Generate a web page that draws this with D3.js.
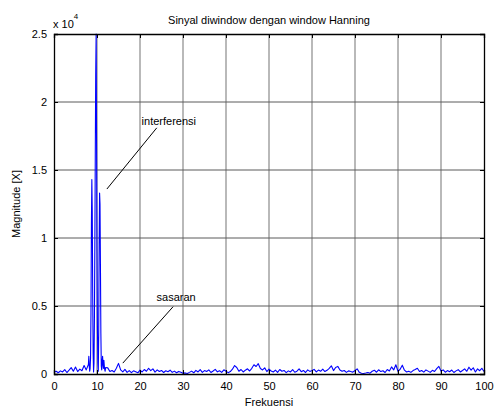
<!DOCTYPE html>
<html>
<head>
<meta charset="utf-8">
<script src="https://cdn.jsdelivr.net/npm/d3@7"></script>
<style>
  body { margin: 0; background: #fff; }
  svg { display: block; font-family: "Liberation Sans", Arial, sans-serif; }
</style>
</head>
<body>
<svg id="chart" width="494" height="412"></svg>
<script>
// Spectrum magnitude |X| of the Hanning-windowed signal, frequency in Hz.
const titleText = "Sinyal diwindow dengan window Hanning";
const xLabel = "Frekuensi";
const yLabel = "Magnitude [X]";

const xTickValues = [0, 10, 20, 30, 40, 50, 60, 70, 80, 90, 100];
const yTickValues = [0, 5000, 10000, 15000, 20000, 25000];
const yTickLabels = ["0", "0.5", "1", "1.5", "2", "2.5"];

// Noise floor 0 .. 8 Hz, every 0.5 Hz
const lowStart = 0, lowStep = 0.5;
const lowMag = [120, 200, 90, 230, 150, 320, 110, 280, 470, 200, 510, 180, 360, 240, 620, 300, 700];

// Interference cluster around 10 Hz, sampled finely
const peakFreq = [8.1, 8.2, 8.3, 8.4, 8.5, 8.6, 8.7, 8.8, 8.9, 9.0,
                  9.1, 9.2, 9.3, 9.4, 9.5, 9.6, 9.7, 9.8, 9.9, 10.0,
                  10.1, 10.2, 10.3, 10.4, 10.5, 10.6, 10.7, 10.8, 10.9, 11.0,
                  11.1, 11.2, 11.3, 11.4, 11.5, 11.6, 11.7, 11.8, 11.9, 12.0];
const peakMag  = [1300, 600, 200, 400, 1200, 4500, 11000, 14300, 12000, 6000,
                  1500, 150, 800, 4000, 9500, 16000, 22000, 25000, 17000, 9000,
                  3500, 800, 200, 3000, 9500, 13300, 12500, 8000, 3000, 600,
                  300, 900, 1300, 700, 400, 1000, 600, 300, 200, 480];

// Noise floor 12.5 .. 100 Hz, every 0.5 Hz (target tone near 15 Hz)
const highStart = 12.5, highStep = 0.5;
const highMag = [
  450, 180, 260, 150, 420, 780, 300, 160, 340, 120,   // 12.5 - 17.0
  250, 100, 230, 160, 90, 280, 150, 330, 200, 420,    // 17.5 - 22.0
  250, 380, 140, 300, 180, 260, 110, 240, 170, 280,   // 22.5 - 27.0
  120, 210, 90, 190, 130, 60, 80, 40, 120, 210,       // 27.5 - 32.0
  90, 270, 150, 320, 120, 250, 180, 300, 110, 220,    // 32.5 - 37.0
  340, 160, 240, 120, 310, 200, 100, 180, 350, 620,   // 37.5 - 42.0
  480, 200, 330, 150, 280, 380, 220, 420, 680, 550,   // 42.5 - 47.0
  760, 400, 300, 450, 180, 360, 220, 150, 280, 120,   // 47.5 - 52.0
  330, 200, 260, 100, 230, 150, 320, 130, 210, 380,   // 52.5 - 57.0
  170, 260, 110, 300, 190, 250, 340, 150, 290, 200,   // 57.5 - 62.0
  360, 180, 270, 420, 600, 250, 480, 560, 300, 200,   // 62.5 - 67.0
  260, 120, 230, 180, 140, 260, 380, 120, 50, 40,     // 67.5 - 72.0
  70, 110, 60, 200, 280, 130, 310, 180, 240, 110,     // 72.5 - 77.0
  330, 220, 520, 300, 680, 200, 350, 650, 280, 150,   // 77.5 - 82.0
  200, 120, 250, 330, 420, 180, 260, 140, 300, 210,   // 82.5 - 87.0
  120, 270, 180, 400, 560, 220, 300, 130, 250, 170,   // 87.5 - 92.0
  290, 110, 230, 320, 150, 260, 380, 200, 500, 280,   // 92.5 - 97.0
  460, 150, 380, 240, 420, 180                        // 97.5 - 100.0
];

// Text annotations with pointer lines, in data units
const annotations = [
  { text: "interferensi", tx: 26.7, ty: 18500, from: [23.9, 18100], to: [12.3, 13600] },
  { text: "sasaran",      tx: 28.4, ty: 5600,  from: [27.7, 4950],  to: [16.0, 800] }
];

const series = [];
lowMag.forEach((m, i) => series.push({ f: lowStart + i * lowStep, m }));
peakFreq.forEach((f, i) => series.push({ f, m: peakMag[i] }));
highMag.forEach((m, i) => series.push({ f: highStart + i * highStep, m }));

const svg = d3.select("#chart");
const margin = { left: 54, right: 10, top: 34, bottom: 38 };
const W = 494, H = 412;
const x = d3.scaleLinear().domain([0, 100]).range([margin.left, W - margin.right]);
const y = d3.scaleLinear().domain([0, 25000]).range([H - margin.bottom, margin.top]);

const x0 = x.range()[0], x1 = x.range()[1];
const y0 = y.range()[0], y1 = y.range()[1];

// grid
const grid = svg.append("g");
grid.selectAll("line.vx").data(xTickValues.slice(1, -1)).join("line")
  .attr("x1", d => x(d)).attr("x2", d => x(d))
  .attr("y1", y0).attr("y2", y1)
  .attr("stroke", "#8a8a8a").attr("stroke-width", 1.2);
grid.selectAll("line.hy").data(yTickValues.slice(1, -1)).join("line")
  .attr("x1", x0).attr("x2", x1)
  .attr("y1", d => y(d)).attr("y2", d => y(d))
  .attr("stroke", "#5a5a5a").attr("stroke-width", 1);

// spectrum line
const line = d3.line().x(d => x(d.f)).y(d => y(d.m));
svg.append("path").datum(series)
  .attr("d", line)
  .attr("fill", "none")
  .attr("stroke", "#0000ff")
  .attr("stroke-width", 1.1)
  .attr("stroke-linejoin", "round");

// axes (ticks point inward, box on all sides)
const tickLen = 4;
const fmtY = d => yTickLabels[yTickValues.indexOf(d)];
const bottomAxis = d3.axisBottom(x).tickValues(xTickValues).tickSize(-tickLen).tickPadding(8).tickFormat(d3.format("d"));
const leftAxis = d3.axisLeft(y).tickValues(yTickValues).tickSize(-tickLen).tickPadding(7).tickFormat(fmtY);
const topAxis = d3.axisTop(x).tickValues(xTickValues).tickSize(-tickLen).tickFormat("");
const rightAxis = d3.axisRight(y).tickValues(yTickValues).tickSize(-tickLen).tickFormat("");

function styleAxis(g) {
  g.select(".domain").attr("stroke", "#000").attr("stroke-width", 1.3);
  g.selectAll(".tick line").attr("stroke", "#000");
  g.selectAll(".tick text").attr("fill", "#000").style("font-size", "11px")
    .style("font-family", "'Liberation Sans', Arial, sans-serif");
}
svg.append("g").attr("transform", `translate(0,${y0})`).call(bottomAxis).call(styleAxis);
svg.append("g").attr("transform", `translate(${x0},0)`).call(leftAxis).call(styleAxis);
svg.append("g").attr("transform", `translate(0,${y1})`).call(topAxis).call(styleAxis);
svg.append("g").attr("transform", `translate(${x1},0)`).call(rightAxis).call(styleAxis);

// exponent marker
const expo = svg.append("text").attr("x", x0 - 1).attr("y", 28)
  .style("font-size", "11px").attr("fill", "#000");
expo.append("tspan").text("x 10");
expo.append("tspan").attr("dy", -9).style("font-size", "8px").text("4");

// title and axis labels
svg.append("text").attr("x", (x0 + x1) / 2).attr("y", 24)
  .attr("text-anchor", "middle").style("font-size", "11px").text(titleText);
svg.append("text").attr("x", (x0 + x1) / 2).attr("y", 406)
  .attr("text-anchor", "middle").style("font-size", "11px").text(xLabel);
svg.append("text")
  .attr("transform", `translate(20,${(y0 + y1) / 2}) rotate(-90)`)
  .attr("text-anchor", "middle").style("font-size", "11px").text(yLabel);

// annotations
annotations.forEach(a => {
  svg.append("line")
    .attr("x1", x(a.from[0])).attr("y1", y(a.from[1]))
    .attr("x2", x(a.to[0])).attr("y2", y(a.to[1]))
    .attr("stroke", "#000").attr("stroke-width", 1);
  svg.append("text").attr("x", x(a.tx)).attr("y", y(a.ty))
    .attr("text-anchor", "middle").attr("dominant-baseline", "middle")
    .style("font-size", "11px").text(a.text);
});
</script>
</body>
</html>
